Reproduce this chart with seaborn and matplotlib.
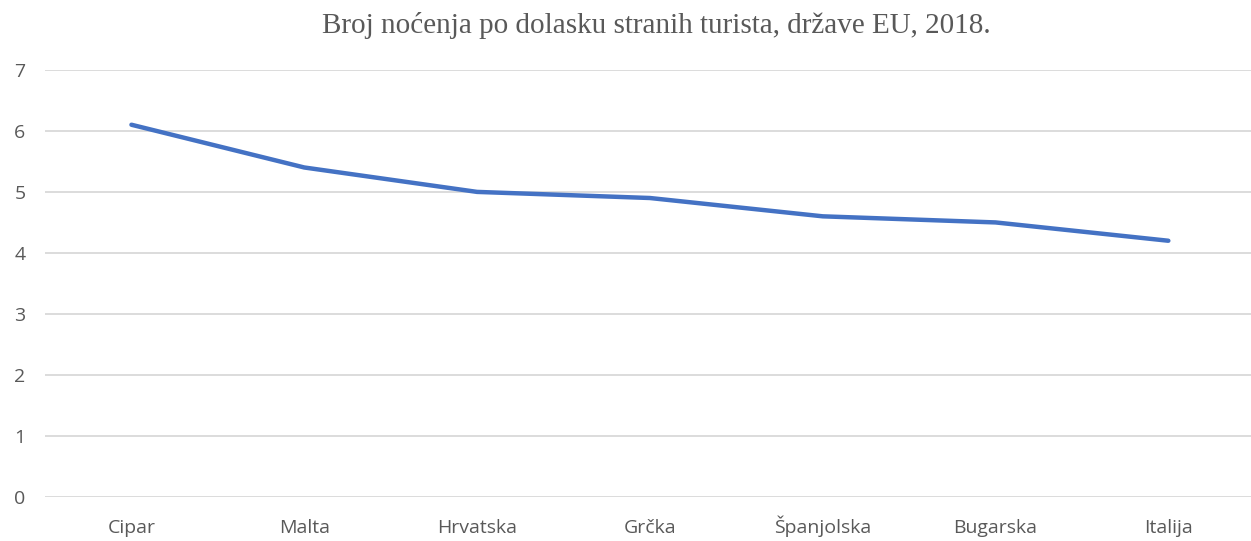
import matplotlib.pyplot as plt
import pandas as pd
import seaborn as sns

countries = ["Cipar", "Malta", "Hrvatska", "Grčka", "Španjolska", "Bugarska", "Italija"]
nights = [6.1, 5.4, 5.0, 4.9, 4.6, 4.5, 4.2]
y_ticks = [0, 1, 2, 3, 4, 5, 6, 7]
title = "Broj noćenja po dolasku stranih turista, države EU, 2018."

df = pd.DataFrame({"country": countries, "nights": nights})

sns.set_theme(style="white")
plt.rcParams["font.family"] = ["Open Sans", "DejaVu Sans"]

fig = plt.figure(figsize=(12.51, 5.41), dpi=100)
ax = fig.add_axes([0.036, 0.081, 0.967, 0.79])

sns.lineplot(data=df, x="country", y="nights", sort=False, color="#4472C4",
             linewidth=3.2, ax=ax, solid_capstyle="round")

ax.set_xlim(-0.5, len(countries) - 0.5)
ax.set_ylim(0, 7)
ax.set_yticks(y_ticks)
ax.yaxis.grid(True, color="#D9D9D9", linewidth=1.3)
ax.set_axisbelow(True)
for s in ax.spines.values():
    s.set_visible(False)
ax.tick_params(axis="both", length=0, labelsize=14, labelcolor="#595959")
ax.tick_params(axis="y", pad=14)
ax.tick_params(axis="x", pad=26)
for lbl in ax.get_xticklabels():
    lbl.set_verticalalignment("baseline")
ax.set_xlabel("")
ax.set_ylabel("")

fig.text(0.525, 0.952, title, ha="center", va="center", fontsize=21,
         family=["Liberation Serif", "DejaVu Serif"], color="#595959")

fig.savefig("out.png", dpi=100)
